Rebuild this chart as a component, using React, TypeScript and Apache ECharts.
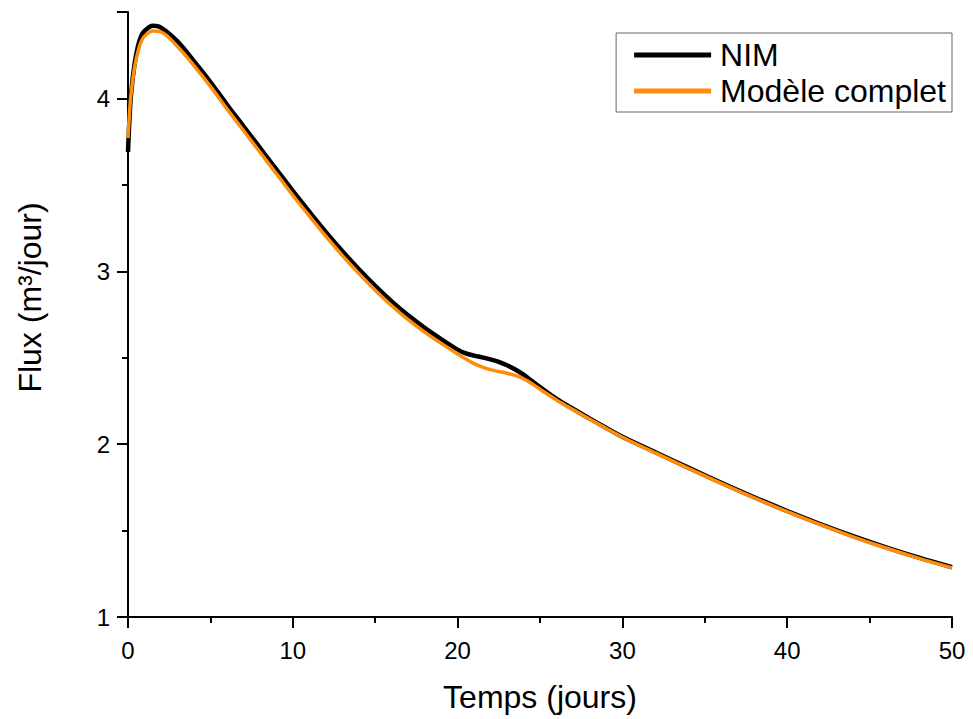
import React, { useEffect, useRef } from "react";
import * as echarts from "echarts";

const times = [0, 0.1, 0.2, 0.4, 0.6, 0.8, 1, 1.5, 2, 3, 4, 5, 6, 7, 8, 9, 10, 11, 12, 13, 14, 15, 16, 17, 18, 19, 20, 20.5, 21, 21.5, 22, 22.5, 23, 23.5, 24, 24.5, 25, 26, 27, 28, 29, 30, 32, 34, 36, 38, 40, 42, 44, 46, 48, 50];

const nimValues = [3.69, 3.9, 4.04, 4.2, 4.3, 4.36, 4.39, 4.42, 4.41, 4.33, 4.215, 4.095, 3.965, 3.84, 3.715, 3.59, 3.465, 3.345, 3.228, 3.117, 3.013, 2.916, 2.826, 2.745, 2.673, 2.608, 2.547, 2.525, 2.512, 2.502, 2.49, 2.476, 2.456, 2.432, 2.402, 2.366, 2.33, 2.262, 2.205, 2.149, 2.095, 2.043, 1.953, 1.864, 1.777, 1.693, 1.613, 1.538, 1.468, 1.403, 1.343, 1.288];

const completeValues = [3.77, 3.93, 4.04, 4.18, 4.27, 4.33, 4.36, 4.39, 4.385, 4.3, 4.19, 4.07, 3.94, 3.815, 3.69, 3.565, 3.44, 3.32, 3.203, 3.092, 2.988, 2.891, 2.801, 2.72, 2.648, 2.583, 2.522, 2.492, 2.466, 2.446, 2.431, 2.42, 2.41, 2.398, 2.378, 2.35, 2.318, 2.256, 2.2, 2.145, 2.092, 2.04, 1.949, 1.86, 1.773, 1.689, 1.609, 1.534, 1.464, 1.399, 1.339, 1.284];

const seriesNames = ["NIM", "Modèle complet"];
const xTitle = "Temps (jours)";
const yTitle = "Flux (m³/jour)";

const FONT = "'Liberation Sans', Arial, Helvetica, sans-serif";

export default function App() {
  const ref = useRef<HTMLDivElement>(null);
  useEffect(() => {
    if (!ref.current) return;
    const chart = echarts.init(ref.current, undefined, { renderer: "svg" });
    const axisLine = { show: true, lineStyle: { color: "#000", width: 2 } };
    chart.setOption({
      animation: false,
      backgroundColor: "#fff",
      textStyle: { fontFamily: FONT },
      grid: { left: 128, right: 21, top: 12, bottom: 102, containLabel: false },
      legend: {
        orient: "vertical",
        right: 21,
        top: 33,
        data: seriesNames,
        icon: "rect",
        itemWidth: 77,
        itemHeight: 5,
        itemGap: 4,
        padding: [6, 6, 5, 18],
        borderColor: "#666",
        borderWidth: 1,
        textStyle: { fontFamily: FONT, fontSize: 32, color: "#000", padding: [0, 0, 0, 4] },
      },
      xAxis: {
        type: "value",
        min: 0,
        max: 50,
        interval: 10,
        name: xTitle,
        nameLocation: "middle",
        nameGap: 64,
        nameTextStyle: { fontFamily: FONT, fontSize: 32, color: "#000" },
        axisLine,
        axisTick: { show: true, inside: false, length: 11, lineStyle: { color: "#000", width: 2 } },
        minorTick: { show: true, splitNumber: 2, length: 6, lineStyle: { color: "#000", width: 2 } },
        axisLabel: { fontFamily: FONT, fontSize: 24, color: "#000", margin: 21 },
        splitLine: { show: false },
      },
      yAxis: {
        type: "value",
        min: 1,
        max: 4.5,
        interval: 1,
        name: yTitle,
        nameLocation: "middle",
        nameRotate: 90,
        nameGap: 82,
        nameTextStyle: { fontFamily: FONT, fontSize: 32, color: "#000", padding: [0, 0, 0, 34] },
        axisLine,
        axisTick: { show: true, inside: false, length: 11, lineStyle: { color: "#000", width: 2 } },
        minorTick: { show: true, splitNumber: 2, length: 6, lineStyle: { color: "#000", width: 2 } },
        axisLabel: { fontFamily: FONT, fontSize: 24, color: "#000", margin: 18, showMaxLabel: false },
        splitLine: { show: false },
      },
      series: [
        {
          name: seriesNames[0],
          type: "line",
          data: times.map((t, i) => [t, nimValues[i]]),
          smooth: 0.35,
          showSymbol: false,
          symbol: "none",
          lineStyle: { color: "#000", width: 4.5 },
          itemStyle: { color: "#000" },
          z: 2,
        },
        {
          name: seriesNames[1],
          type: "line",
          data: times.map((t, i) => [t, completeValues[i]]),
          smooth: 0.35,
          showSymbol: false,
          symbol: "none",
          lineStyle: { color: "#FF8C0A", width: 3.5 },
          itemStyle: { color: "#FF8C0A" },
          z: 3,
        },
      ],
    });
    return () => chart.dispose();
  }, []);
  return (
    <div
      ref={ref}
      style={{ position: "fixed", left: 0, top: 0, width: 973, height: 719 }}
    />
  );
}
